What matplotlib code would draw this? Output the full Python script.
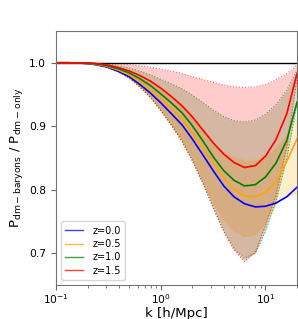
import matplotlib
matplotlib.use("Agg")
import matplotlib.pyplot as plt
import numpy as np

k = [0.1, 0.13, 0.17, 0.22, 0.3, 0.4, 0.5, 0.63, 0.8, 1.0, 1.26, 1.6, 2.0, 2.5, 3.2, 4.0, 5.0, 6.3, 8.0, 10.0, 12.6, 16.0, 20.0]

mean_z00 = [1.0, 1.0, 0.9995, 0.998, 0.994, 0.986, 0.978, 0.966, 0.952, 0.937, 0.920, 0.902, 0.880, 0.856, 0.829, 0.806, 0.789, 0.778, 0.773, 0.774, 0.779, 0.789, 0.804]
mean_z05 = [1.0, 1.0, 0.9996, 0.9985, 0.995, 0.988, 0.981, 0.971, 0.958, 0.944, 0.928, 0.911, 0.890, 0.867, 0.841, 0.819, 0.801, 0.790, 0.789, 0.796, 0.812, 0.845, 0.880]
mean_z10 = [1.0, 1.0, 0.9997, 0.999, 0.996, 0.990, 0.984, 0.975, 0.964, 0.951, 0.937, 0.921, 0.901, 0.878, 0.851, 0.830, 0.815, 0.806, 0.808, 0.820, 0.842, 0.878, 0.938]
mean_z15 = [1.0, 1.0, 0.9998, 0.9993, 0.997, 0.992, 0.987, 0.980, 0.971, 0.960, 0.947, 0.932, 0.915, 0.895, 0.873, 0.856, 0.843, 0.835, 0.838, 0.853, 0.879, 0.920, 0.983]

up_z05 = [1.0, 1.0, 0.9997, 0.999, 0.997, 0.993, 0.988, 0.980, 0.970, 0.958, 0.945, 0.930, 0.912, 0.893, 0.873, 0.860, 0.851, 0.846, 0.847, 0.853, 0.866, 0.886, 0.913]
lo_z05 = [1.0, 1.0, 0.9993, 0.998, 0.993, 0.985, 0.976, 0.962, 0.945, 0.925, 0.902, 0.876, 0.846, 0.812, 0.778, 0.752, 0.735, 0.726, 0.730, 0.748, 0.778, 0.790, 0.795]
up_z10 = [1.0, 1.0, 0.9998, 0.9993, 0.998, 0.995, 0.992, 0.987, 0.981, 0.974, 0.967, 0.959, 0.949, 0.938, 0.925, 0.915, 0.909, 0.907, 0.910, 0.919, 0.934, 0.957, 0.988]
lo_z10 = [1.0, 1.0, 0.9993, 0.998, 0.993, 0.985, 0.976, 0.962, 0.945, 0.925, 0.902, 0.876, 0.846, 0.812, 0.770, 0.735, 0.707, 0.692, 0.700, 0.735, 0.782, 0.850, 0.935]
up_z15 = [1.0, 1.0, 1.0, 0.9997, 0.999, 0.998, 0.997, 0.995, 0.993, 0.990, 0.987, 0.983, 0.978, 0.974, 0.969, 0.965, 0.962, 0.961, 0.962, 0.966, 0.973, 0.983, 0.996]
lo_z15 = [1.0, 1.0, 0.9993, 0.998, 0.993, 0.985, 0.976, 0.962, 0.945, 0.925, 0.902, 0.876, 0.846, 0.812, 0.770, 0.734, 0.705, 0.687, 0.702, 0.744, 0.792, 0.868, 0.975]

labels = ["z=0.0", "z=0.5", "z=1.0", "z=1.5"]
colors = ["blue", "orange", "green", "red"]

fig = plt.figure(figsize=(2.98, 3.19), dpi=100)
ax = fig.add_axes([56/298, 34/319, 241/298, 254/319])

bands = [(up_z05, lo_z05, "orange"), (up_z10, lo_z10, "green"), (up_z15, lo_z15, "red")]
for up, lo, c in bands:
    ax.fill_between(k, lo, up, color=c, alpha=0.2, lw=0)
    ax.plot(k, up, ls=":", color=c, lw=0.8, alpha=0.6)
    ax.plot(k, lo, ls=":", color=c, lw=0.8, alpha=0.6)

ax.axhline(1.0, color="black", lw=1.0)

means = [mean_z00, mean_z05, mean_z10, mean_z15]
for m, c, lab in zip(means, colors, labels):
    ax.plot(k, m, color=c, lw=1.2, label=lab)

ax.set_xscale("log")
ax.set_xlim(0.1, 20)
ax.set_ylim(0.65, 1.05)
ax.set_yticks([0.7, 0.8, 0.9, 1.0])
ax.tick_params(labelsize=7.7, color="0.4", length=3.5)
ax.tick_params(axis="x", pad=1.5)
ax.tick_params(which="minor", color="0.4", length=2)
for s in ax.spines.values():
    s.set_color("0.45")
ax.set_xlabel("k [h/Mpc]", fontsize=9.5, labelpad=1)
ax.set_ylabel(r"$\mathrm{P_{dm-baryons}}$ / $\mathrm{P_{dm-only}}$", fontsize=9.5, labelpad=3)
leg = ax.legend(loc="lower left", fontsize=7, handlelength=1.8, handletextpad=1.0,
                borderpad=0.45, labelspacing=0.35, framealpha=0.8)
for h in leg.get_lines():
    h.set_linewidth(1.0)
    h.set_alpha(0.75)

fig.savefig("out.png", dpi=100)
